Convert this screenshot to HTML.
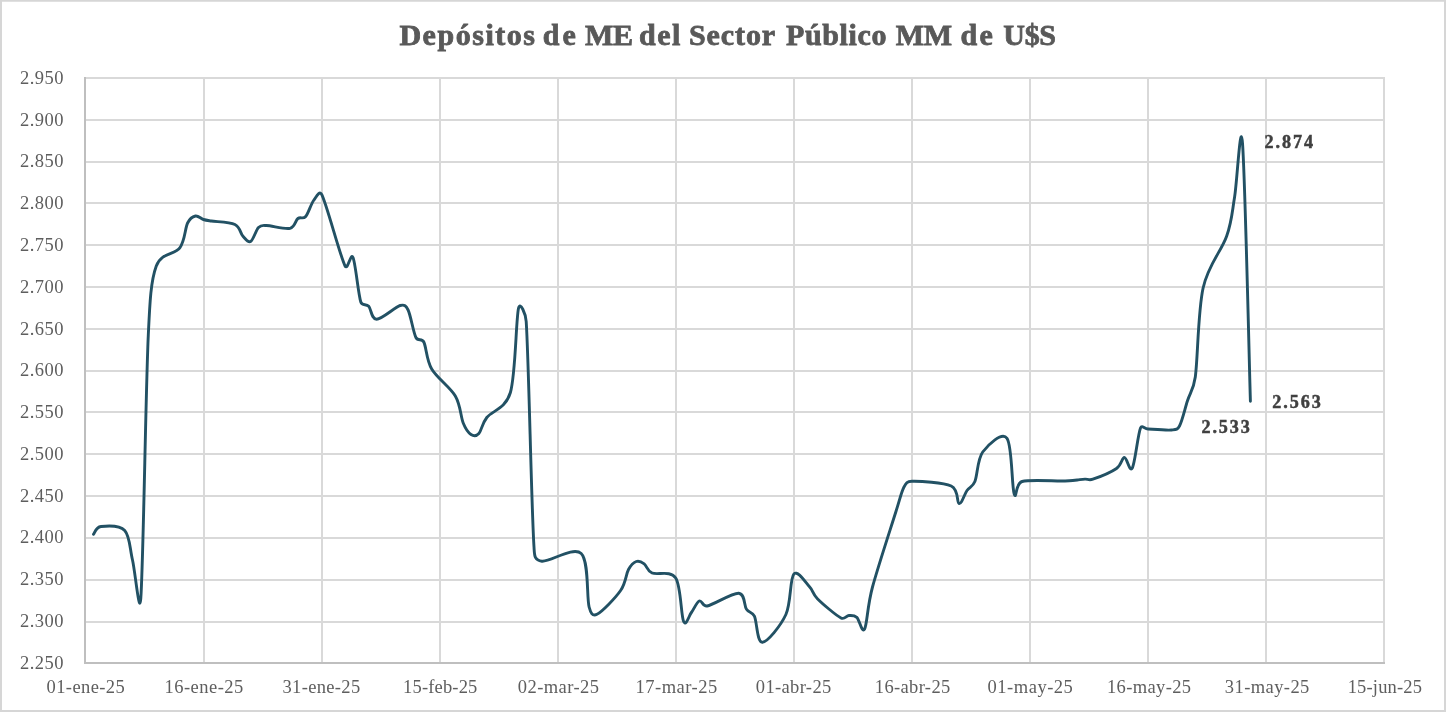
<!DOCTYPE html>
<html lang="es">
<head>
<meta charset="utf-8">
<title>Depósitos de ME del Sector Público MM de U$S</title>
<style>
html,body{margin:0;padding:0;background:#fff;}
body{width:1446px;height:712px;overflow:hidden;font-family:"Liberation Serif",serif;}
#chart{position:relative;width:1446px;height:712px;box-sizing:border-box;background:#fff;}
svg{position:absolute;left:0;top:0;display:block;}
text{font-family:"Liberation Serif",serif;}
.ax{font-size:18.5px;fill:#5e5e5e;letter-spacing:0.45px;}
.dl{font-size:18.1px;font-weight:bold;fill:#404040;letter-spacing:1.95px;stroke:#404040;stroke-width:0.5px;}
.title{font-size:30px;font-weight:bold;fill:#595959;stroke:#595959;stroke-width:0.8px;}
</style>
</head>
<body>
<div id="chart">
<svg width="1446" height="712" viewBox="0 0 1446 712">
<rect x="0" y="0" width="1446" height="712" fill="#ffffff"/>
<rect x="1" y="0.75" width="1444" height="710.25" fill="none" stroke="#d6d6d6" stroke-width="2"/>
<g stroke="#d9d9d9" stroke-width="2" fill="none">
<line x1="85.0" y1="78.00" x2="1385" y2="78.00"/>
<line x1="85.0" y1="120.00" x2="1385" y2="120.00"/>
<line x1="85.0" y1="162.00" x2="1385" y2="162.00"/>
<line x1="85.0" y1="203.00" x2="1385" y2="203.00"/>
<line x1="85.0" y1="245.00" x2="1385" y2="245.00"/>
<line x1="85.0" y1="287.00" x2="1385" y2="287.00"/>
<line x1="85.0" y1="329.00" x2="1385" y2="329.00"/>
<line x1="85.0" y1="371.00" x2="1385" y2="371.00"/>
<line x1="85.0" y1="412.00" x2="1385" y2="412.00"/>
<line x1="85.0" y1="454.00" x2="1385" y2="454.00"/>
<line x1="85.0" y1="496.00" x2="1385" y2="496.00"/>
<line x1="85.0" y1="538.00" x2="1385" y2="538.00"/>
<line x1="85.0" y1="580.00" x2="1385" y2="580.00"/>
<line x1="85.0" y1="622.00" x2="1385" y2="622.00"/>
<line x1="204.0" y1="77.0" x2="204.0" y2="662.9"/>
<line x1="322.0" y1="77.0" x2="322.0" y2="662.9"/>
<line x1="440.0" y1="77.0" x2="440.0" y2="662.9"/>
<line x1="558.0" y1="77.0" x2="558.0" y2="662.9"/>
<line x1="676.0" y1="77.0" x2="676.0" y2="662.9"/>
<line x1="794.0" y1="77.0" x2="794.0" y2="662.9"/>
<line x1="912.0" y1="77.0" x2="912.0" y2="662.9"/>
<line x1="1030.0" y1="77.0" x2="1030.0" y2="662.9"/>
<line x1="1148.0" y1="77.0" x2="1148.0" y2="662.9"/>
<line x1="1266.0" y1="77.0" x2="1266.0" y2="662.9"/>
<line x1="1384.0" y1="77.0" x2="1384.0" y2="662.9"/>
</g>
<g stroke="#bfbfbf" stroke-width="2" fill="none">
<line x1="85.0" y1="77.0" x2="85.0" y2="664.00"/>
<line x1="84.0" y1="662.90" x2="1385" y2="662.90"/>
</g>
<g class="ax" text-anchor="end">
<text x="63.9" y="83.8">2.950</text>
<text x="63.9" y="125.6">2.900</text>
<text x="63.9" y="167.4">2.850</text>
<text x="63.9" y="209.1">2.800</text>
<text x="63.9" y="250.9">2.750</text>
<text x="63.9" y="292.7">2.700</text>
<text x="63.9" y="334.5">2.650</text>
<text x="63.9" y="376.3">2.600</text>
<text x="63.9" y="418.0">2.550</text>
<text x="63.9" y="459.8">2.500</text>
<text x="63.9" y="501.6">2.450</text>
<text x="63.9" y="543.4">2.400</text>
<text x="63.9" y="585.2">2.350</text>
<text x="63.9" y="626.9">2.300</text>
<text x="63.9" y="668.7">2.250</text>
</g>
<g class="ax">
<text x="46.5" y="692.6" style="letter-spacing:0.41px">01-ene-25</text>
<text x="164.5" y="692.6" style="letter-spacing:0.47px">16-ene-25</text>
<text x="282.5" y="692.6" style="letter-spacing:0.34px">31-ene-25</text>
<text x="403.1" y="692.6" style="letter-spacing:0.16px">15-feb-25</text>
<text x="517.8" y="692.6" style="letter-spacing:0.44px">02-mar-25</text>
<text x="635.4" y="692.6" style="letter-spacing:0.53px">17-mar-25</text>
<text x="755.8" y="692.6" style="letter-spacing:0.36px">01-abr-25</text>
<text x="874.8" y="692.6" style="letter-spacing:0.36px">16-abr-25</text>
<text x="987.6" y="692.6" style="letter-spacing:0.51px">01-may-25</text>
<text x="1106.9" y="692.6" style="letter-spacing:0.38px">16-may-25</text>
<text x="1224.8" y="692.6" style="letter-spacing:0.42px">31-may-25</text>
<text x="1347.7" y="692.6" style="letter-spacing:0.16px">15-jun-25</text>
</g>
<text class="title" y="44.7"><tspan x="399.4" style="letter-spacing:1.53px">Depósitos</tspan> <tspan x="542.8" style="letter-spacing:2.92px">de</tspan> <tspan x="584.9" style="letter-spacing:-0.30px">ME</tspan> <tspan x="639.1" style="letter-spacing:1.45px">del</tspan> <tspan x="688.9" style="letter-spacing:0.92px">Sector</tspan> <tspan x="786.0" style="letter-spacing:0.64px">Público</tspan> <tspan x="895.7" style="letter-spacing:-0.30px">MM</tspan> <tspan x="960.5" style="letter-spacing:2.42px">de</tspan> <tspan x="1003.3" style="letter-spacing:-0.30px">U$S</tspan></text>
<path d="M93.5 534.2C94.8 532.9 95.8 527.1 101.0 526.5C106.2 525.9 119.5 524.9 124.7 530.5C129.9 536.1 129.8 548.7 132.5 560.0C135.2 571.3 139.4 618.1 140.8 598.5C143.4 561.0 145.7 390.4 148.3 335.0C149.9 300.4 150.9 280.7 156.2 266.2C161.3 252.1 174.6 255.0 179.8 247.8C185.0 240.6 185.0 228.3 187.6 223.0C189.9 218.3 192.9 216.6 195.5 216.0C198.1 215.4 200.8 218.7 203.4 219.5C206.0 220.3 207.3 220.4 211.3 221.0C216.6 221.8 229.7 222.0 234.9 224.5C240.2 227.0 240.2 233.2 242.8 236.0C245.4 238.8 248.0 242.9 250.6 241.5C253.2 240.1 255.9 230.2 258.5 227.5C261.1 224.8 262.3 225.4 266.4 225.5C271.6 225.6 284.8 229.5 290.0 228.3C295.2 227.1 295.3 220.5 297.9 218.5C300.5 216.5 303.1 219.5 305.7 216.5C308.3 213.5 310.9 204.2 313.6 200.5C316.3 196.8 319.6 190.0 321.8 194.6C327.1 205.5 339.9 255.5 345.1 266.0C347.7 271.2 350.7 252.2 353.0 257.5C355.6 263.5 358.2 293.9 360.8 302.0C362.2 306.3 366.1 303.4 368.7 306.3C371.3 309.2 371.4 319.4 376.6 319.3C381.9 319.2 394.9 307.1 400.2 305.5C404.6 304.2 406.1 305.9 408.1 310.0C410.7 315.3 413.3 332.2 415.9 337.5C417.9 341.6 421.8 337.9 423.8 342.0C426.4 347.2 426.4 360.0 431.7 369.0C436.9 378.0 450.1 387.0 455.3 396.0C460.6 405.0 460.6 416.6 463.2 423.0C465.8 429.4 468.4 432.8 471.0 434.5C473.6 436.2 476.3 436.3 478.9 433.5C481.5 430.7 481.6 424.3 486.8 417.5C492.1 410.7 505.6 409.0 510.4 392.5C515.7 374.3 515.9 320.1 518.5 308.3C520.2 300.8 525.7 313.9 526.2 321.5C528.8 361.3 531.4 507.1 534.0 547.0C534.5 555.1 534.0 560.1 541.9 561.2C549.8 562.3 573.3 545.9 581.2 553.5C589.1 561.1 586.5 596.9 589.1 607.0C590.5 612.2 592.2 616.8 597.0 614.3C602.2 611.5 615.4 598.0 620.6 590.5C625.9 583.0 625.9 574.3 628.5 569.5C631.1 564.7 633.7 562.5 636.3 561.5C638.9 560.5 641.6 561.9 644.2 563.8C646.8 565.7 646.9 570.6 652.1 573.0C657.4 575.4 670.5 569.9 675.7 578.0C681.0 586.1 681.0 615.8 683.6 621.5C686.1 626.9 688.8 615.9 691.4 612.5C694.0 609.1 696.7 602.1 699.3 601.0C701.9 599.9 702.6 606.9 707.2 606.0C713.8 604.7 732.2 592.7 738.7 593.2C745.2 593.8 743.9 605.5 746.5 609.3C749.1 613.1 752.1 611.5 754.4 616.2C757.0 621.7 757.0 642.6 762.3 642.3C767.5 642.0 780.6 625.9 785.9 614.5C791.1 603.1 789.9 578.7 793.8 574.1C797.7 569.5 805.6 582.7 809.5 586.8C813.4 590.9 812.3 593.7 817.4 598.7C822.6 603.9 835.8 615.2 841.0 618.0C844.7 619.9 846.3 615.6 848.9 615.5C851.5 615.4 854.2 615.0 856.8 617.3C859.4 619.5 862.0 634.0 864.6 629.0C867.2 624.0 867.2 606.7 872.5 587.0C877.8 567.3 890.9 527.7 896.1 511.0C899.9 499.0 901.4 491.9 904.0 487.0C906.3 482.7 907.0 481.4 911.9 481.3C919.8 481.1 943.3 482.3 951.2 486.0C959.1 489.7 956.5 502.8 959.1 503.5C961.7 504.2 964.4 494.2 967.0 490.5C969.6 486.8 972.6 487.0 974.9 481.5C977.5 475.1 977.4 459.2 982.7 452.0C988.1 444.8 1001.8 431.3 1007.0 438.3C1012.2 445.3 1011.7 486.8 1014.2 494.0C1016.6 501.0 1015.0 483.5 1022.1 481.5C1030.0 479.3 1053.5 481.1 1061.4 481.0C1065.4 480.9 1066.7 481.0 1069.3 480.8C1071.9 480.6 1074.6 480.3 1077.2 480.0C1079.8 479.7 1082.4 479.2 1085.0 479.1C1087.6 479.0 1089.2 480.5 1092.9 479.2C1098.2 477.4 1111.2 472.1 1116.5 468.5C1121.8 464.9 1121.8 457.6 1124.4 457.5C1127.0 457.4 1129.6 472.9 1132.3 468.0C1135.0 463.1 1137.9 434.5 1140.5 428.0C1141.9 424.5 1144.2 428.8 1148.0 429.0C1153.2 429.3 1166.3 430.5 1171.6 430.0C1176.0 429.6 1177.4 429.9 1179.5 426.0C1182.1 421.2 1184.8 409.2 1187.4 401.0C1190.0 392.8 1193.6 389.5 1195.3 377.0C1197.9 358.2 1197.9 311.5 1203.1 288.0C1208.3 264.5 1221.5 251.2 1226.7 236.0C1232.0 220.8 1232.0 212.5 1234.6 197.0C1237.2 181.5 1240.4 116.1 1242.5 143.2C1245.1 177.2 1249.1 358.2 1250.4 401.2" fill="none" stroke="#225164" stroke-width="2.9" stroke-linejoin="round" stroke-linecap="round"/>
<g class="dl">
<text x="1264.6" y="148.0">2.874</text>
<text x="1272.2" y="407.7">2.563</text>
<text x="1201.4" y="432.7">2.533</text>
</g>
</svg>
</div>
</body>
</html>
